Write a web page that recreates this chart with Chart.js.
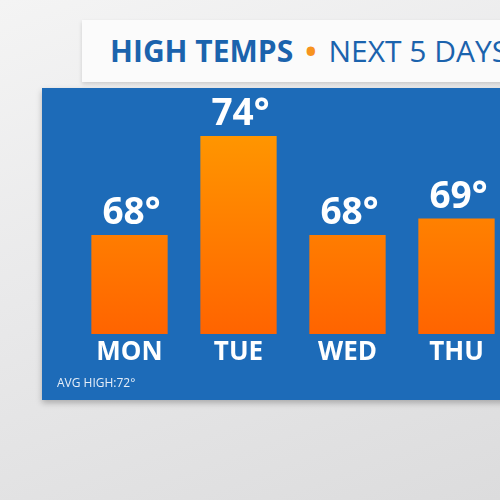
<!DOCTYPE html>
<html><head><meta charset="utf-8">
<script src="https://cdn.jsdelivr.net/npm/chart.js@4"></script>
<style>
html,body{margin:0;width:500px;height:500px;overflow:hidden;font-family:"Open Sans",Roboto,sans-serif;}
#bg{position:absolute;left:0;top:0;width:500px;height:500px;background:linear-gradient(160deg,#f4f4f4 0%,#e9e9ea 45%,#dcdcdd 100%);}
#hdr{position:absolute;left:82px;top:20px;width:430px;height:62px;background:#fbfbfb;box-shadow:0 2px 4px rgba(0,0,0,.15);}
#ttl{position:absolute;left:110px;top:30px;font-size:30px;font-weight:700;color:#1b63ad;white-space:nowrap;}
#ttl .dot{color:#f7931e;margin:0 12px}
#ttl .n{font-weight:500}
#panel{position:absolute;left:42px;top:88px;width:470px;height:312px;background:#1d6bb8;box-shadow:0 3px 6px rgba(0,0,0,.25);}
#cv{position:absolute;left:0;top:0;}
#avg{position:absolute;left:57px;top:374px;font-size:12px;color:#e6eef8;}
</style></head><body>
<div id="bg"></div><div id="hdr"></div>
<div id="ttl">HIGH TEMPS<span class="dot">•</span><span class="n">NEXT 5 DAYS</span></div>
<div id="panel"></div>
<div style="position:absolute;left:0;top:0;width:500px;height:500px;overflow:hidden"><div style="width:640px;height:500px;position:relative"><canvas id="cv" width="640" height="500"></canvas></div></div>
<div id="avg">AVG HIGH:72°</div>
<script>
const days=["MON","TUE","WED","THU","FRI"];
const highs=[68,74,68,69,70];
const labelsPlugin={id:'lbl',afterDatasetsDraw(c){const ctx=c.ctx;const m=c.getDatasetMeta(0);ctx.save();ctx.fillStyle='#fff';ctx.textAlign='center';ctx.font='bold 37px "Open Sans",sans-serif';
m.data.forEach((b,i)=>{ctx.textBaseline='bottom';ctx.fillText(highs[i]+'°',b.x+2,b.y-3);});
ctx.font='bold 26px "Open Sans",sans-serif';ctx.textBaseline='top';
m.data.forEach((b,i)=>{ctx.fillText(days[i],b.x,c.chartArea.bottom+6);});ctx.restore();}};
new Chart(document.getElementById('cv'),{type:'bar',
data:{labels:days,datasets:[{data:highs,barPercentage:0.70,categoryPercentage:1,
backgroundColor(ctx){const a=ctx.chart.chartArea;if(!a)return'#ff8c00';const g=ctx.chart.ctx.createLinearGradient(0,a.top,0,a.bottom);g.addColorStop(0,'#ffae00');g.addColorStop(1,'#ff6400');return g;}}]},
options:{responsive:false,animation:false,layout:{padding:{left:75,right:20,top:37,bottom:166}},
plugins:{legend:{display:false},tooltip:{enabled:false}},
scales:{x:{display:false},y:{display:false,min:62,max:80}}},
plugins:[labelsPlugin]});
</script></body></html>
